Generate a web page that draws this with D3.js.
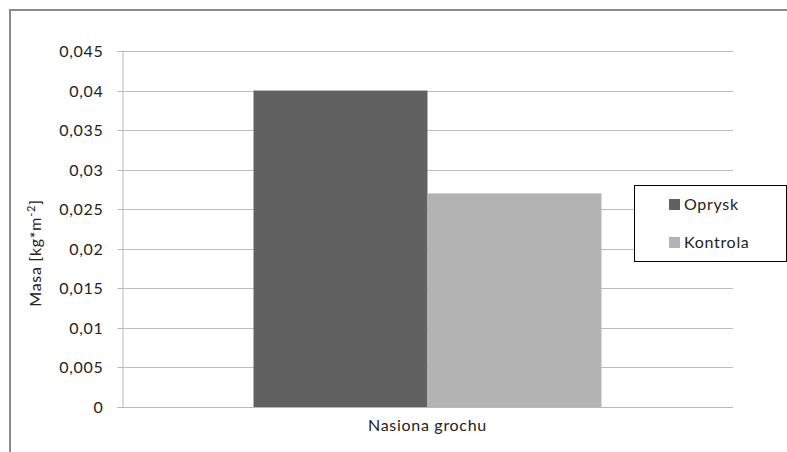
<!DOCTYPE html>
<html>
<head>
<meta charset="utf-8">
<script src="https://cdn.jsdelivr.net/npm/d3@7"></script>
<style>
  body { margin: 0; background: #fff; }
  svg { display: block; font-family: Lato, "Open Sans", sans-serif; }
</style>
</head>
<body>
<svg id="chart" width="787" height="452"></svg>
<script>
// Chart data
const categories = ["Nasiona grochu"];
const seriesNames = ["Oprysk", "Kontrola"];
const seriesColors = ["#616161", "#b3b3b3"];
const oprysk = [0.04];
const kontrola = [0.027];
const yTicks = [0, 0.005, 0.01, 0.015, 0.02, 0.025, 0.03, 0.035, 0.04, 0.045];
const yTickLabels = ["0", "0,005", "0,01", "0,015", "0,02", "0,025", "0,03", "0,035", "0,04", "0,045"];

const FS = 16;
const LS = 0.7;

const svg = d3.select("#chart");
const plot = { left: 122, right: 733, top: 51, bottom: 407 };

// Outer chart frame (only top and left edges fall inside the view)
svg.append("path")
  .attr("d", "M10,470 L10,10 L800,10")
  .attr("fill", "none")
  .attr("stroke", "#8a8a8a")
  .attr("stroke-width", 2);

const y = d3.scaleLinear().domain([0, 0.045]).range([plot.bottom, plot.top]);
const x0 = d3.scaleBand().domain(categories).range([plot.left, plot.right]).paddingInner(0).paddingOuter(0.378);
const x1 = d3.scaleBand().domain(seriesNames).range([0, x0.bandwidth()]);

// Horizontal gridlines
svg.append("g").selectAll("line").data(yTicks.slice(1)).join("line")
  .attr("x1", plot.left).attr("x2", plot.right)
  .attr("y1", d => Math.round(y(d)) + 0.5).attr("y2", d => Math.round(y(d)) + 0.5)
  .attr("stroke", "#bdbdbd").attr("stroke-width", 1);

// Y axis
const yAxis = d3.axisLeft(y).tickValues(yTicks)
  .tickFormat((d, i) => yTickLabels[i]).tickSize(5).tickPadding(14);
const yg = svg.append("g").attr("transform", `translate(${plot.left + 0.5},0)`).call(yAxis);
yg.select(".domain").attr("stroke", "#b8b8b8");
yg.selectAll(".tick line").attr("stroke", "#b8b8b8");
yg.selectAll(".tick").attr("transform", d => `translate(0,${Math.round(y(d)) + 0.5})`);
yg.selectAll("text").attr("font-size", FS).attr("fill", "#222")
  .attr("letter-spacing", LS)
  .attr("font-family", "Lato, 'Open Sans', sans-serif");

// Bars
const data = seriesNames.map((s, i) => ({ series: s, value: (i === 0 ? oprysk : kontrola)[0], cat: categories[0], color: seriesColors[i] }));
svg.append("g").selectAll("rect").data(data).join("rect")
  .attr("x", d => x0(d.cat) + x1(d.series))
  .attr("width", x1.bandwidth())
  .attr("y", d => y(d.value))
  .attr("height", d => plot.bottom - y(d.value))
  .attr("fill", d => d.color);

// X axis baseline
svg.append("line")
  .attr("x1", plot.left).attr("x2", plot.right)
  .attr("y1", plot.bottom + 0.5).attr("y2", plot.bottom + 0.5)
  .attr("stroke", "#b8b8b8");

// Category label
svg.append("g").selectAll("text").data(categories).join("text")
  .attr("x", d => x0(d) + x0.bandwidth() / 2)
  .attr("y", 431)
  .attr("text-anchor", "middle")
  .attr("font-size", FS).attr("letter-spacing", LS).attr("fill", "#222")
  .text(d => d);

// Y axis title
const title = svg.append("text")
  .attr("transform", "translate(41,253) rotate(-90)")
  .attr("text-anchor", "middle")
  .attr("font-size", FS).attr("letter-spacing", LS).attr("fill", "#222");
title.append("tspan").text("Masa [kg*m");
title.append("tspan").attr("dy", -6).attr("font-size", 11).text("-2");
title.append("tspan").attr("dy", 6).text("]");

// Legend
const legend = svg.append("g");
legend.append("rect")
  .attr("x", 634.5).attr("y", 185.5).attr("width", 152).attr("height", 76)
  .attr("fill", "#fff").attr("stroke", "#000").attr("stroke-width", 1);
const items = legend.selectAll("g").data(seriesNames).join("g")
  .attr("transform", (d, i) => `translate(669,${204 + i * 38})`);
items.append("rect").attr("x", 0).attr("y", -5).attr("width", 11).attr("height", 11)
  .attr("fill", (d, i) => seriesColors[i]);
items.append("text").attr("x", 15).attr("y", 6)
  .attr("font-size", FS).attr("letter-spacing", LS).attr("fill", "#222").text(d => d);
</script>
</body>
</html>
